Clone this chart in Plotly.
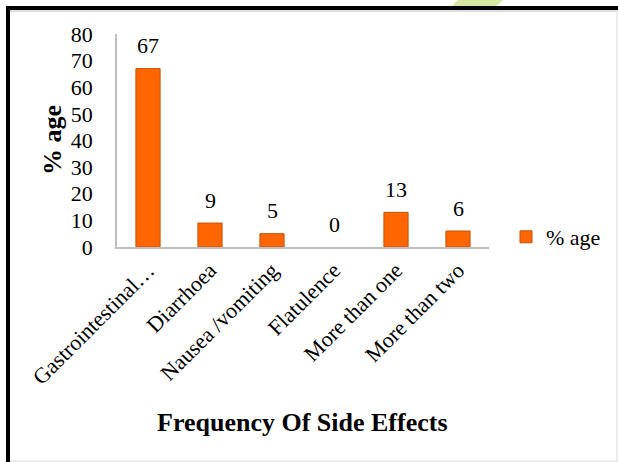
import plotly.graph_objects as go

# Side-effect categories and their share (%)
categories = ["Gastrointestinal…", "Diarrhoea", "Nausea /vomiting",
              "Flatulence", "More than one", "More than two"]
percent = [67, 9, 5, 0, 13, 6]
y_ticks = [0, 10, 20, 30, 40, 50, 60, 70, 80]
series_name = "% age"

W, H = 618, 462
L, R, T, B = 117, 489, 34, 247  # plot area in pixels


def px(x):
    return (x - L) / (R - L)


def py(y):
    return (B - y) / (B - T)


FONT = "Liberation Serif, Times New Roman, serif"

fig = go.Figure()
fig.add_trace(go.Bar(
    x=categories, y=percent, name=series_name, width=0.39,
    marker=dict(color="#FF6600",
                line=dict(color="#C45200", width=[1 if v > 0 else 0 for v in percent])),
    showlegend=True,
))

# value labels above each bar
value_labels = [
    dict(x=c, y=v, xref="x", yref="y", text=str(v), showarrow=False,
         yshift=23, xanchor="center", yanchor="middle",
         font=dict(family=FONT, size=22, color="#000"))
    for c, v in zip(categories, percent)
]

fig.update_layout(
    width=W, height=H,
    margin=dict(l=L, r=W - R, t=T, b=H - B, pad=0),
    paper_bgcolor="white", plot_bgcolor="white",
    font=dict(family=FONT, size=22, color="#000"),
    xaxis=dict(
        type="category", showline=True, linecolor="#BFBFBF", linewidth=1.5,
        showgrid=False, ticks="", tickangle=-45,
        tickfont=dict(family=FONT, size=22, color="#000"),
    ),
    yaxis=dict(
        range=[0, 80], tickvals=y_ticks, showline=True, linecolor="#BFBFBF",
        linewidth=1.5, showgrid=False, zeroline=False, ticks="",
        ticklabelstandoff=18,
        tickfont=dict(family=FONT, size=22, color="#000"),
    ),
    legend=dict(
        x=px(506), y=py(237), xanchor="left", yanchor="middle",
        font=dict(family=FONT, size=22, color="#000"),
        bgcolor="rgba(0,0,0,0)", itemwidth=30, tracegroupgap=0,
    ),
    annotations=value_labels + [
        dict(text="<b>Frequency Of Side Effects</b>", x=px(302), y=py(422),
             xanchor="center", yanchor="middle",
             xref="paper", yref="paper", showarrow=False,
             font=dict(family=FONT, size=26, color="#000")),
        dict(text="<b>% age</b>", x=px(52), y=py(140), textangle=-90,
             xanchor="center", yanchor="middle",
             xref="paper", yref="paper", showarrow=False,
             font=dict(family=FONT, size=26, color="#000")),
    ],
    shapes=[
        # light green accent behind the top frame edge
        dict(type="path", xref="paper", yref="paper", line=dict(width=0),
             fillcolor="#D5E7A2", layer="below",
             path=f"M {px(452)} {py(6)} L {px(458)} {py(0)} L {px(503)} {py(0)} "
                  f"L {px(497)} {py(6)} Z"),
        # frame: heavy black top and left, thin grey right and bottom
        dict(type="line", xref="paper", yref="paper", x0=px(6), x1=px(618),
             y0=py(8), y1=py(8), line=dict(color="#000", width=4)),
        dict(type="line", xref="paper", yref="paper", x0=px(8), x1=px(8),
             y0=py(6), y1=py(462), line=dict(color="#000", width=4)),
        dict(type="line", xref="paper", yref="paper", x0=px(10), x1=px(618),
             y0=py(11), y1=py(11), line=dict(color="#BBBBBB", width=1)),
        dict(type="line", xref="paper", yref="paper", x0=px(617), x1=px(617),
             y0=py(10), y1=py(462), line=dict(color="#E6E6E6", width=1.5)),
        dict(type="line", xref="paper", yref="paper", x0=px(10), x1=px(618),
             y0=py(461), y1=py(461), line=dict(color="#E6E6E6", width=1.5)),
    ],
)

fig.write_html("out.html", config={"displayModeBar": False})
